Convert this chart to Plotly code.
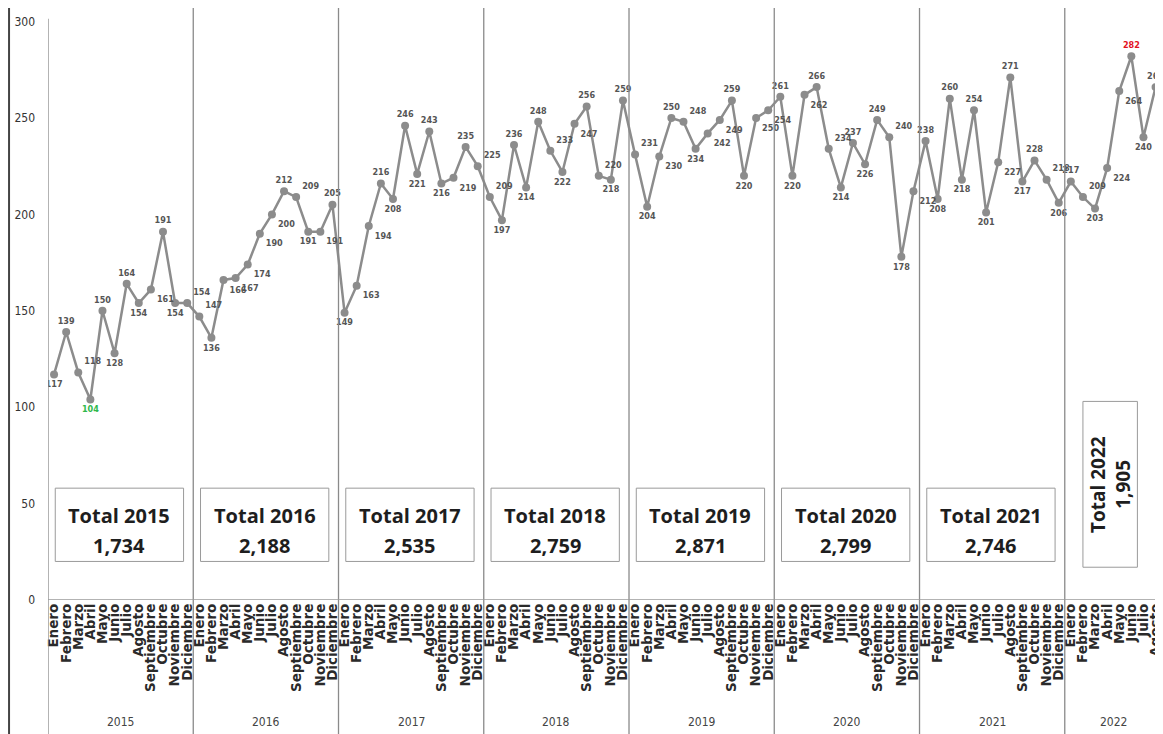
import plotly.graph_objects as go

months = ["Enero", "Febrero", "Marzo", "Abril", "Mayo", "Junio", "Julio",
          "Agosto", "Septiembre", "Octubre", "Noviembre", "Diciembre"]
years = [2015, 2016, 2017, 2018, 2019, 2020, 2021, 2022]

v2015 = [117, 139, 118, 104, 150, 128, 164, 154, 161, 191, 154, 154]
v2016 = [147, 136, 166, 167, 174, 190, 200, 212, 209, 191, 191, 205]
v2017 = [149, 163, 194, 216, 208, 246, 221, 243, 216, 219, 235, 225]
v2018 = [209, 197, 236, 214, 248, 233, 222, 247, 256, 220, 218, 259]
v2019 = [231, 204, 230, 250, 248, 234, 242, 249, 259, 220, 250, 254]
v2020 = [261, 220, 262, 266, 234, 214, 237, 226, 249, 240, 178, 212]
v2021 = [238, 208, 260, 218, 254, 201, 227, 271, 217, 228, 218, 206]
v2022 = [217, 209, 203, 224, 264, 282, 240, 266]
totals = [1734, 2188, 2535, 2759, 2871, 2799, 2746, 1905]

series = [v2015, v2016, v2017, v2018, v2019, v2020, v2021, v2022]
values = [v for s in series for v in s]
labels = [months[i % 12] for i in range(len(values))]
xs = list(range(len(values)))

# label placement / colour derived from the data
imin = values.index(min(values))
imax = values.index(max(values))
positions, colors = [], []
for i, v in enumerate(values):
    p = values[i - 1] if i > 0 else values[i + 1]
    n = values[i + 1] if i < len(values) - 1 else values[i - 1]
    if i > 0 and v == p:
        positions.append("bottom right" if n > v else "top right")
    elif v >= p and v >= n:
        positions.append("top center")
    elif v <= p and v <= n:
        positions.append("bottom center")
    elif p < v < n:
        positions.append("bottom right")
    else:
        positions.append("top right")
    colors.append("#2fb84a" if i == imin else ("#e3121f" if i == imax else "#555555"))

fig = go.Figure()
fig.add_trace(go.Scatter(
    x=xs, y=values, mode="lines+markers+text",
    line=dict(color="#8c8c8c", width=2.5),
    marker=dict(color="#8c8c8c", size=8, symbol="circle"),
    text=[str(v) for v in values], textposition=positions,
    textfont=dict(family="DejaVu Sans Condensed", size=9, color=colors, weight="bold"),
    hoverinfo="x+y", showlegend=False, cliponaxis=True,
))

shapes = []
# year separators (extend into the label area)
for k in range(len(years)):
    shapes.append(dict(type="line", xref="x", yref="paper",
                       x0=12 * k - 0.5, x1=12 * k - 0.5,
                       y0=-0.24, y1=(0.985 if k == 0 else 1.01),
                       line=dict(color="#8a8a8a", width=1.3)))
# baseline
shapes.append(dict(type="line", xref="paper", yref="y", x0=0, x1=1, y0=0, y1=0,
                   line=dict(color="#9a9a9a", width=1.3)))
# left frame
shapes.append(dict(type="line", xref="paper", yref="paper", x0=-0.0350, x1=-0.0350,
                   y0=-0.24, y1=1.01, line=dict(color="#444444", width=2)))

annotations = []
for k, (yr, tot) in enumerate(zip(years, totals)):
    tot_txt = f"{tot:,}"
    if k < 7:
        x0, x1 = 12 * k + 0.1, 12 * k + 10.7
        shapes.append(dict(type="rect", xref="x", yref="y", x0=x0, x1=x1, y0=20, y1=58,
                           line=dict(color="#9a9a9a", width=1), fillcolor="rgba(0,0,0,0)"))
        cx = (x0 + x1) / 2
        annotations.append(dict(x=cx, y=44, xref="x", yref="y", text=f"<b>Total {yr}</b>",
                                showarrow=False, font=dict(family="Open Sans", size=20, color="#1e1e1e")))
        annotations.append(dict(x=cx, y=28.5, xref="x", yref="y", text=f"<b>{tot_txt}</b>",
                                showarrow=False, font=dict(family="Open Sans", size=20, color="#1e1e1e")))
        cyear = 12 * k + 5.5
    else:
        x0, x1 = 12 * k + 1.0, 12 * k + 5.5
        shapes.append(dict(type="rect", xref="x", yref="y", x0=x0, x1=x1, y0=17, y1=103,
                           line=dict(color="#9a9a9a", width=1), fillcolor="rgba(0,0,0,0)"))
        annotations.append(dict(x=12 * k + 2.3, y=60, xref="x", yref="y", text=f"<b>Total {yr}</b>",
                                textangle=-90, showarrow=False,
                                font=dict(family="Open Sans", size=19, color="#1e1e1e")))
        annotations.append(dict(x=12 * k + 4.35, y=60, xref="x", yref="y", text=f"<b>{tot_txt}</b>",
                                textangle=-90, showarrow=False,
                                font=dict(family="Open Sans", size=19, color="#1e1e1e")))
        cyear = 12 * k + 3.5
    annotations.append(dict(x=cyear, y=-0.222, xref="x", yref="paper", text=str(yr),
                            showarrow=False, font=dict(family="DejaVu Sans Condensed", size=12, color="#444444")))

fig.update_layout(
    width=1155, height=726,
    margin=dict(l=40, r=0, t=2, b=134),
    paper_bgcolor="white", plot_bgcolor="white",
    shapes=shapes, annotations=annotations,
    xaxis=dict(range=[-0.5, 91.45], tickmode="array", tickvals=xs, ticktext=labels,
               tickangle=-90, showgrid=False, zeroline=False, showline=False, ticks="",
               ticklabeloverflow="allow",
               tickfont=dict(family="DejaVu Sans", size=13.5, color="#2a2a2a", weight="bold")),
    yaxis=dict(range=[0, 306], tickvals=[0, 50, 100, 150, 200, 250, 300], showgrid=False,
               zeroline=False, showline=False, ticks="", ticklabelstandoff=12,
               tickfont=dict(family="DejaVu Sans Condensed", size=12, color="#333333")),
)

fig.write_html("out.html")
